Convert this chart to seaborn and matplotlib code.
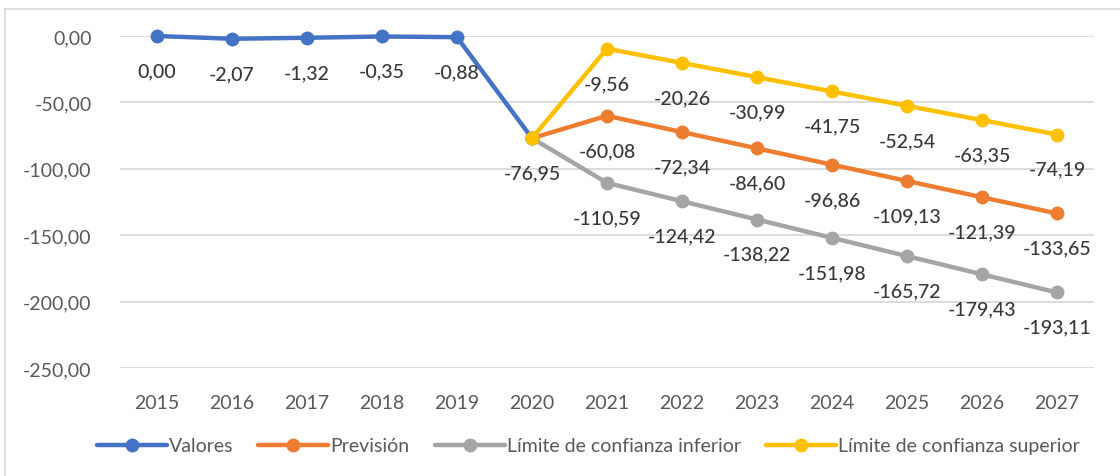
import pandas as pd
import matplotlib.pyplot as plt
import seaborn as sns
from matplotlib.lines import Line2D

# Data
years_hist = [2015, 2016, 2017, 2018, 2019, 2020]
valores = [0.00, -2.07, -1.32, -0.35, -0.88, -76.95]

years_fc = [2020, 2021, 2022, 2023, 2024, 2025, 2026, 2027]
prevision = [-76.95, -60.08, -72.34, -84.60, -96.86, -109.13, -121.39, -133.65]
lim_inf = [-76.95, -110.59, -124.42, -138.22, -151.98, -165.72, -179.43, -193.11]
lim_sup = [-76.95, -9.56, -20.26, -30.99, -41.75, -52.54, -63.35, -74.19]

all_years = list(range(2015, 2028))
y_ticks = [0, -50, -100, -150, -200, -250]


def fmt(v):
    return f"{v:.2f}".replace(".", ",")


sns.set_theme(style="white")
plt.rcParams["font.family"] = ["Lato", "DejaVu Sans"]

fig = plt.figure(figsize=(11.2, 4.77), dpi=100)
ax = fig.add_axes([0.1067, 0.2264, 0.8705, 0.696])

series = [
    ("Valores", years_hist, valores, "#4472C4", True),
    ("Previsión", years_fc, prevision, "#ED7D31", False),
    ("Límite de confianza inferior", years_fc, lim_inf, "#A5A5A5", False),
    ("Límite de confianza superior", years_fc, lim_sup, "#FFC000", False),
]

for name, xs, ys, col, first_label in series:
    df = pd.DataFrame({"Año": xs, "Valor": ys})
    sns.lineplot(data=df, x="Año", y="Valor", ax=ax, color=col, linewidth=3.2,
                 marker="o", markersize=10, markeredgewidth=0, label=name,
                 legend=False, clip_on=False, zorder=3)
    for i, (x, y) in enumerate(zip(xs, ys)):
        # the shared 2020 point is labelled only once
        if not first_label and i == 0:
            continue
        ax.annotate(fmt(y), (x, y), xytext=(0, -25), textcoords="offset points",
                    ha="center", va="center", fontsize=14, color="#383838",
                    fontweight="medium", zorder=4)

ax.set_xlim(2014.5, 2027.5)
ax.set_ylim(-250, 0)
ax.set_xticks(all_years)
ax.set_xticklabels([str(y) for y in all_years])
ax.set_yticks(y_ticks)
ax.set_yticklabels([fmt(v) for v in y_ticks])
ax.tick_params(axis="x", length=0, pad=19, labelsize=14, labelcolor="#595959")
ax.tick_params(axis="y", length=0, pad=20, labelsize=14, labelcolor="#595959")
ax.set_xlabel("")
ax.set_ylabel("")
ax.grid(axis="y", color="#D9D9D9", linewidth=1.3)
ax.grid(axis="x", visible=False)
for s in ax.spines.values():
    s.set_visible(False)

handles = [Line2D([0], [0], color=col, linewidth=3.2, marker="o", markersize=10,
                  markeredgewidth=0) for _, _, _, col, _ in series]
fig.legend(handles, [s[0] for s in series], loc="center", bbox_to_anchor=(0.525, 0.063),
           ncol=4, frameon=False, fontsize=14, handlelength=3.6, handletextpad=0.1,
           columnspacing=1.3, labelcolor="#595959")

# chart area border
fig.add_artist(Line2D([5 / 1120, 1], [1 - 10 / 477, 1 - 10 / 477], color="#D9D9D9", linewidth=1.2))
fig.add_artist(Line2D([5 / 1120, 5 / 1120], [1 - 10 / 477, 0], color="#D9D9D9", linewidth=1.2))

fig.savefig("out.png", dpi=100)
